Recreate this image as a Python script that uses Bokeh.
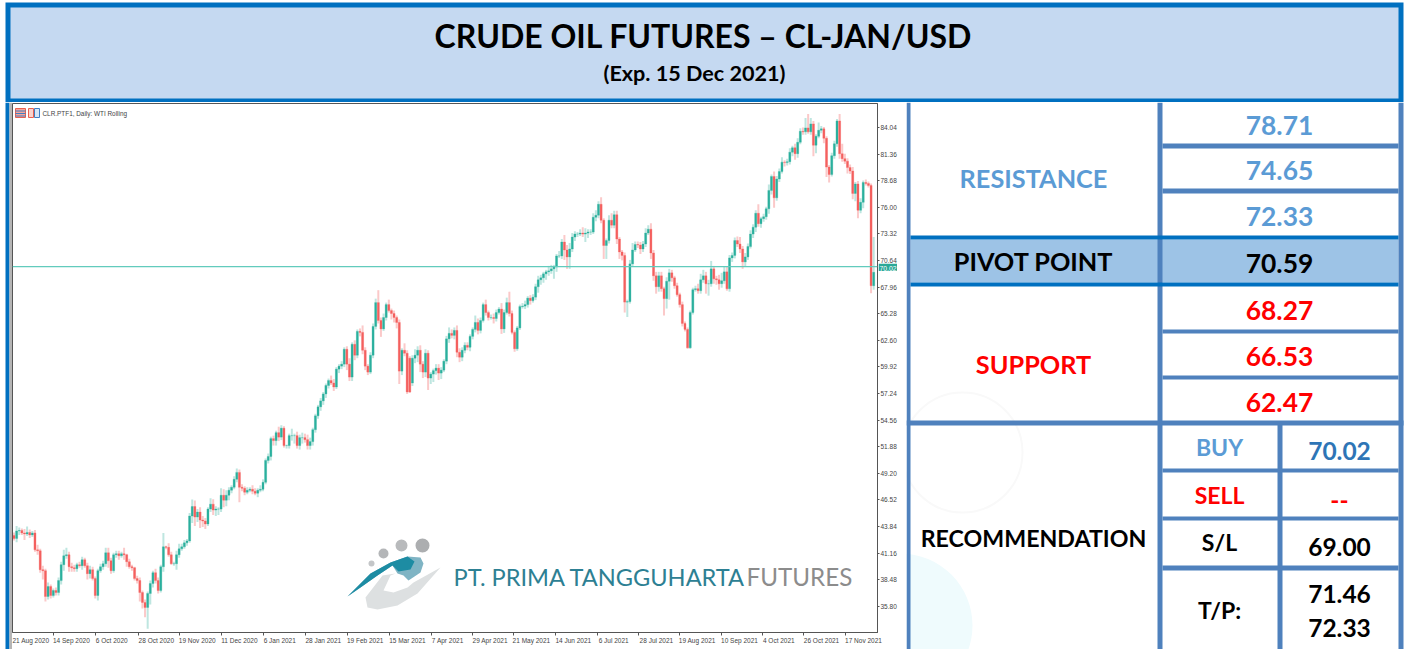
from bokeh.plotting import figure
from bokeh.layouts import column, row
from bokeh.embed import file_html
from bokeh.resources import INLINE
from bokeh.core.properties import value
from bokeh.models import (ColumnDataSource, Range1d, LinearAxis, FixedTicker, NumeralTickFormatter,
                          CustomJSTickFormatter, Span)

closes = [
 42.65,43.4,43.45,43.2,43.1,43.25,43.0,43.2,
 41.5,41.4,39.5,39.4,36.8,37.8,36.9,37.4,37.2,38.4,40.0,40.9,
 41.0,39.8,39.7,39.6,40.0,39.9,40.5,39.9,39.1,39.5,
 38.6,36.9,39.4,39.8,40.1,41.2,40.4,39.4,41.0,41.1,
 40.9,41.1,41.0,40.3,39.8,39.7,38.6,38.4,37.2,36.2,
 35.7,37.1,38.1,39.2,38.4,37.4,39.8,41.8,41.75,41.0,
 40.1,40.1,41.0,41.6,41.8,42.2,42.4,44.9,45.86,44.8,
 45.3,44.5,44.4,44.1,45.6,46.1,45.5,45.6,45.6,47.0,
 46.5,47.0,47.5,47.8,48.6,49.3,47.8,47.7,47.3,47.5,
 47.6,47.4,47.2,47.5,47.6,48.3,50.5,50.9,52.7,52.5,
 53.3,52.85,53.75,52.0,52.0,53.0,53.0,53.0,52.0,52.8,
 52.8,52.6,52.0,52.4,53.6,55.0,55.9,56.5,57.2,58.05,
 58.55,58.3,57.9,59.7,60.0,60.2,61.7,60.2,58.9,62.2,
 61.1,63.5,63.4,61.6,60.0,59.4,61.1,64.0,66.4,64.6,
 63.75,64.9,66.2,65.6,65.3,64.9,64.4,59.5,61.6,61.3,
 57.4,57.4,60.8,61.1,61.6,60.2,59.4,61.3,58.8,59.2,
 59.55,59.8,59.3,59.6,60.5,62.75,63.3,63.1,63.6,61.4,
 60.9,61.6,62.1,61.9,63.0,63.7,64.4,63.6,64.6,66.2,
 65.4,64.9,64.9,64.8,65.4,65.75,63.75,65.4,66.4,65.3,
 63.4,61.75,63.85,66.0,66.05,66.2,66.85,66.6,66.95,68.0,
 68.7,68.9,69.3,69.5,69.6,69.8,70.0,71.1,71.1,72.5,
 71.7,71.0,71.8,73.0,73.3,73.3,73.4,73.3,73.4,73.5,
 73.5,75.0,75.2,76.3,74.7,72.15,72.65,74.7,74.2,75.25,
 72.8,71.5,71.15,66.45,66.5,70.3,71.7,72.25,72.2,71.8,
 72.3,73.4,73.8,71.4,69.1,68.0,69.1,67.8,66.8,68.55,
 69.4,68.9,68.1,67.2,66.2,64.3,63.7,61.85,65.4,67.7,
 67.8,67.6,68.7,69.1,68.3,68.3,69.8,68.8,68.7,68.3,
 68.6,69.5,67.8,70.9,71.15,72.65,72.3,71.8,70.5,71.0,
 72.05,73.3,74.0,75.4,74.35,74.85,75.05,75.85,77.7,79.1,
 76.95,78.85,79.6,80.55,80.5,80.6,81.55,82.0,81.4,82.55,
 83.65,83.6,84.0,83.6,84.4,82.25,83.15,83.75,83.9,82.95,
 80.05,79.3,81.2,82.4,84.7,81.4,80.9,80.65,80.0,79.65,
 77.4,78.35,75.7,76.5,78.5,78.4,78.2,68.1,69.45,
]
first_open = 42.95
open_gaps = {151: 60.8, 152: 58.3}

wick_up = [
 .3,.5,.3,.2,.4,.6,.3,.2,
 .3,.5,.2,.4,.2,.4,.2,.2,.3,.3,.3,.6,
 .7,.3,.4,.3,.2,.3,.3,.2,.3,.4,
 .3,.2,.2,.3,.3,.5,.5,.3,.2,.3,
 .3,.2,.6,.1,.3,.2,.1,.3,.3,.2,
 .3,.2,.3,.2,.4,.3,.2,1.4,.1,.4,
 .3,.2,.4,.5,.3,.3,.2,.3,.7,.6,
 .3,.5,.4,.3,.2,.6,.5,.3,.2,.7,
 .6,.5,.3,.2,.3,.4,.3,.3,.2,.3,
 .2,.4,.3,.2,.4,.3,.2,.3,.2,.3,
 .2,.6,.3,.2,.1,.2,.7,.2,.4,.3,
 .5,.4,.5,.4,.2,.2,.2,.3,.2,.2,
 .2,.5,.4,.2,.2,.3,.2,.3,.6,.2,
 .4,.2,.3,.7,.3,.2,.3,.3,.4,1.25,
 .3,.4,.2,.5,.2,.3,.2,.3,.2,.7,
 .3,.2,.3,.6,.4,.5,.3,.4,.3,.2,
 .2,.4,.4,.3,.2,.3,.6,.4,.3,.5,
 .4,.3,.3,.3,.2,.2,.7,.4,.3,.2,
 .5,.2,.3,.4,.3,.2,.6,.3,.5,1.1,
 .3,.2,.2,.2,.3,.4,.2,.3,.3,.3,
 .4,.3,.2,.2,.5,.4,.2,.2,.5,.3,
 .7,.5,.6,.4,.3,.2,.4,.6,.5,.3,
 .3,.4,.5,.3,.7,.2,.2,.5,.7,.4,
 .4,.2,.2,.3,.2,.4,.7,.3,.3,.3,
 .3,.5,.4,.6,.3,.4,.4,.4,.2,.4,
 .4,.3,.2,.3,.2,.3,.2,.2,.2,.2,
 .3,.5,.6,.6,.4,.4,.8,.3,.3,.5,
 .8,.5,.5,.3,.3,.3,.4,.7,.3,.4,
 .3,.4,.3,.3,.9,.2,.3,.2,.6,.2,
 .5,.3,.3,.5,.2,.3,.4,.2,.4,.4,
 .3,.4,1.0,1.4,.6,.3,.2,.8,.3,.2,
 .2,.2,.3,.3,.2,.7,1.0,.5,.3,.3,
 .4,.2,.3,.4,.2,.3,.2,.2,3.55,
]
wick_dn = [
 .2,.4,.4,.2,.6,.2,.3,.2,
 .2,.4,.3,.9,.5,.3,.3,.2,.3,.3,.4,.6,
 .3,.5,.4,.3,.3,.2,.4,.2,.6,.5,
 .2,.3,.5,.2,.3,.3,.7,.3,.2,.3,
 .4,.2,.5,.5,.2,.3,.2,.3,.9,.6,
 1.0,2.15,1.1,.4,.3,.3,.2,.5,.2,.2,
 .1,.2,.6,.3,.2,.2,.3,.2,.7,.9,
 .5,.8,.6,.5,.2,.3,.5,.6,.6,.3,
 .7,.6,.5,.3,.2,.3,1.5,.3,.3,.2,
 .2,.3,.2,.4,.2,.2,.2,.3,.4,.5,
 .5,.4,.3,.2,.3,.3,.5,.8,.3,.4,
 .6,.3,.4,.4,.4,.3,.3,.4,.4,.4,
 .3,.2,.4,.2,.4,.3,.3,.6,.4,.4,
 .5,.3,.4,.4,.4,.3,.2,.3,.3,.3,
 .8,.2,.3,.2,.6,.5,.6,1.3,.4,.3,
 .2,.1,.3,.5,.7,.8,.6,.5,1.2,.6,
 .8,.4,.7,.6,.2,.3,.4,.3,.4,.5,
 .5,.4,.3,.3,.4,.3,.3,.4,.3,.2,
 .3,.3,.2,.5,.3,.2,.5,.4,.2,.3,
 .2,.3,.2,.2,.2,.3,.3,.4,.2,.3,
 .6,.5,.5,.6,.4,.3,1.0,.5,.2,.3,
 1.0,1.2,1.2,.3,.4,.3,.2,.3,.8,.5,
 .3,.2,.4,.3,.3,1.35,1.35,.3,.3,.3,
 .5,.7,.5,1.05,1.5,.2,.3,.2,.3,.5,
 .3,.3,.2,.6,.5,.7,.5,.3,1.7,1.0,
 1.85,.4,.3,.2,.3,.3,.2,.1,.1,.2,
 .2,.3,.3,.3,1.0,1.2,.3,.5,.5,.6,
 .4,.3,.2,.3,.4,.3,.3,.4,.7,.5,
 .3,.2,.4,.5,.3,.4,.3,.3,.5,.4,
 1.0,.3,.3,.2,.4,.3,.3,.4,.6,.4,
 .2,.3,.3,.2,.3,1.1,.8,.2,.3,.5,
 1.0,.8,.2,.3,.3,.5,.3,.3,.6,.3,
 .6,.8,.8,.3,.6,.2,.2,.75,.4,
]

y_ticks = [84.04,81.36,78.68,76.00,73.32,70.64,67.96,65.28,62.60,59.92,57.24,54.56,51.88,49.20,46.52,43.84,41.16,38.48,35.80]
x_tick_bars = [-0.6,15.1,31.1,47.5,63.1,79.2,95.2,111.2,127.2,143.3,159.3,174.9,190.6,206.6,222.6,238.3,253.9,270.0,285.6,301.3,317.3]
x_labels = ["21 Aug 2020","14 Sep 2020","6 Oct 2020","28 Oct 2020","19 Nov 2020","11 Dec 2020","6 Jan 2021","28 Jan 2021",
            "19 Feb 2021","15 Mar 2021","7 Apr 2021","29 Apr 2021","21 May 2021","14 Jun 2021","6 Jul 2021","28 Jul 2021",
            "19 Aug 2021","10 Sep 2021","4 Oct 2021","26 Oct 2021","17 Nov 2021"]
last_price = 70.02
chart_caption = "CLR.PTF1, Daily:  WTI Rolling"

title_text = "CRUDE OIL FUTURES \u2013 CL-JAN/USD"
subtitle_text = "(Exp. 15 Dec 2021)"
resistance = ["78.71", "74.65", "72.33"]
pivot = "70.59"
support = ["68.27", "66.53", "62.47"]
buy_price = "70.02"
sell_price = "--"
stop_loss = "69.00"
take_profit = ["71.46", "72.33"]
logo_teal = "PT. PRIMA TANGGUHARTA"
logo_grey = "FUTURES"

BLUE = "#0070C0"; LINE = "#4F81BD"; HEAD = "#C5D9F1"; PIV = "#9DC3E6"; SKY = "#5B9BD5"
UP = "#2BB09E"; DOWN = "#F4605E"; UP_W = "#BEE6E0"; DOWN_W = "#FBC9C9"
FONT = value("Lato")


def panel(w, h, x0, y0, margin=(0, 0, 0, 0)):
    f = figure(width=w, height=h, x_range=Range1d(x0, x0 + w), y_range=Range1d(y0 + h, y0),
               x_axis_location=None, y_axis_location=None, toolbar_location=None,
               output_backend="svg", min_border=0, outline_line_color=None, frame_align=False,
               background_fill_color="white", border_fill_color="white", margin=margin)
    f.grid.visible = False
    return f


def put(f, x, y, txt, size, color="black", style="bold", font=FONT, align="center"):
    f.text([x], [y], text=[txt], text_font=font, text_font_size=f"{size}px", text_font_style=style,
           text_color=color, text_align=align, text_baseline="middle")


def bar(f, l, r, t, b, color):
    f.quad(left=[l], right=[r], top=[t], bottom=[b], fill_color=color, line_color=None)


# ---------- header ----------
hd = panel(1405, 102, 0, 0)
bar(hd, 5, 1403, 2, 102, BLUE)
bar(hd, 10, 1398, 7, 98, HEAD)
put(hd, 703, 35, title_text, 32)
put(hd, 694, 72, subtitle_text, 21.6)

# ---------- left edge of the picture ----------
strip = panel(12, 547, 0, 102)
bar(strip, 5, 9, 102, 649, BLUE)
bar(strip, 9, 11.5, 102, 649, "#B5B5B5")

# ---------- chart ----------
n = len(closes)
opens = [first_open] + closes[:-1]
for k, v in open_gaps.items():
    opens[k] = v
highs = [max(o, c) + w for o, c, w in zip(opens, closes, wick_up)]
lows = [min(o, c) - w for o, c, w in zip(opens, closes, wick_dn)]
xs = list(range(n))
src = ColumnDataSource(dict(
    x=xs, o=opens, c=closes, h=highs, l=lows,
    body=[UP if c >= o else DOWN for o, c in zip(opens, closes)],
    wick=[UP_W if c >= o else DOWN_W for o, c in zip(opens, closes)]))

PX = 2.621
X0 = 13.5
PY = 9.928
YC = 96.83
ch = figure(width=894, height=547,
            x_range=Range1d((12 - X0) / PX, (877 - X0) / PX),
            y_range=Range1d(YC - 632 / PY, YC - 103 / PY),
            x_axis_location=None, y_axis_location=None, toolbar_location=None, output_backend="svg",
            min_border_left=0, min_border_right=29, min_border_top=1, min_border_bottom=17, frame_align=False,
            outline_line_color="#555555", outline_line_width=1,
            background_fill_color="white", border_fill_color="white", margin=(0, 0, 0, 0))
ch.grid.visible = False
ch.extra_x_ranges["px"] = Range1d(12, 877)
ch.extra_y_ranges["px"] = Range1d(632, 103)

ch.segment("x", "h", "x", "l", source=src, line_color="wick", line_width=2)
ch.vbar(x="x", width=0.78, top="o", bottom="c", source=src, fill_color="body", line_color="body", line_width=0.3)
ch.add_layout(Span(location=last_price, dimension="width", line_color="#62CBBD", line_width=1.2))

yax = LinearAxis(ticker=FixedTicker(ticks=y_ticks), formatter=NumeralTickFormatter(format="0.00"),
                 major_tick_out=2, major_tick_in=0, minor_tick_out=0, minor_tick_in=0,
                 major_label_standoff=1, major_label_text_font_size="6.5px", major_label_text_color="#444444",
                 major_label_text_font="Liberation Sans", axis_line_color="#555555", major_tick_line_color="#555555")
ch.add_layout(yax, "right")

tick_ax = LinearAxis(ticker=FixedTicker(ticks=x_tick_bars), major_tick_out=3, major_tick_in=0,
                     minor_tick_out=0, minor_tick_in=0,
                     formatter=CustomJSTickFormatter(code='return ""'),
                     major_label_standoff=0, axis_line_color="#555555", major_tick_line_color="#555555")
ch.add_layout(tick_ax, "below")
label_bars = [b + (len(t) * 3.15 / 2 + 0.5) / PX for b, t in zip(x_tick_bars, x_labels)]
lab_ax = LinearAxis(ticker=FixedTicker(ticks=label_bars),
                    formatter=CustomJSTickFormatter(args=dict(labels=x_labels), code="return labels[index]"),
                    major_tick_out=0, major_tick_in=0, minor_tick_out=0, minor_tick_in=0,
                    major_label_standoff=1, major_label_text_font_size="6.5px", major_label_text_color="#444444",
                    major_label_text_font="Liberation Sans", axis_line_color=None)
ch.add_layout(lab_ax, "below")


def pq(l, r, t, b, c, line=None):
    ch.quad(left=[l], right=[r], top=[t], bottom=[b], fill_color=c, line_color=line,
            x_range_name="px", y_range_name="px")


def pt(x, y, txt, size, c, font, style="normal", align="left"):
    ch.text([x], [y], text=[txt], text_font=value(font), text_font_size=f"{size}px", text_font_style=style,
            text_color=c, text_align=align, text_baseline="middle", x_range_name="px", y_range_name="px")


def pp(xs_, ys_, c):
    ch.patch(xs_, ys_, fill_color=c, line_color=None, x_range_name="px", y_range_name="px")


# chart caption and its icons
pq(15, 25, 108, 117, "#F7A59A", "#E8604F")
for yy in (110.5, 113, 115.5):
    ch.segment([15], [yy], [25], [yy], line_color="#3F7FC4", line_width=1, x_range_name="px", y_range_name="px")
pq(28, 33, 108, 117, "#FBD3CC", "#E8604F")
pq(34, 39, 108, 117, "#D5E6F7", "#3F7FC4")
pt(42, 112.5, chart_caption, 6.4, "#444444", "Liberation Sans")

# logo
for cx, cy, r, c in ((371, 563, 3, "#C4C6C8"), (383, 553, 5, "#B4B6B8"), (401, 545, 6, "#B8BABC"), (422, 545, 7, "#ACAEB0")):
    ch.circle([cx], [cy], radius=r, fill_color=c, line_color=None, x_range_name="px", y_range_name="px")
pp([382, 365, 367, 377, 397, 417, 440, 413, 407, 393, 383, 390, 395],
   [575, 597, 607, 609, 605, 593, 567, 582, 587, 592, 590, 575, 573], "#DDE0E1")
pp([347, 370, 390, 407, 420, 423, 420, 408, 403, 397, 392, 377, 360],
   [596, 573, 562, 556, 557, 563, 572, 580, 575, 573, 565, 575, 587], "#7FB4C4")
pp([347, 370, 390, 407, 414, 410, 398, 392, 377, 360],
   [596, 573, 562, 556, 561, 569, 571, 565, 575, 587], "#1D8CA3")
pt(453, 576, logo_teal, 23.6, "#2D8093", "Lato")
pt(746, 576, logo_grey, 24.2, "#8C8C8C", "Lato")

# ---------- price flag, laid over the chart's axis strip ----------
flag = panel(19, 10, 878, 261, margin=(159, 9, 0, -28))
bar(flag, 878, 897, 261, 271, "#2BA898")
put(flag, 887.5, 266, f"{last_price:.2f}", 6.8, "white", style="normal", font=value("Liberation Sans"))

# ---------- table ----------
tb = panel(499, 547, 906, 102)
tb.circle([900], [625], radius=72, fill_color="#EFFBFD", line_color=None)
tb.circle([962], [452], radius=60, fill_color=None, line_color="#F9F9F9", line_width=2)
bar(tb, 910, 1398, 239, 282, PIV)
for l, r, t, b in ((906, 910, 102, 649), (1157, 1162, 102, 649), (1277, 1282, 421, 649), (1398, 1403, 102, 649)):
    bar(tb, l, r, t, b, LINE)
for t, b in ((143, 148), (188, 193), (329, 333), (375, 379), (468, 472), (516, 520), (565, 570)):
    bar(tb, 1162, 1398, t, b, LINE)
bar(tb, 906, 1403, 420, 425, LINE)
for t, b in ((235, 239), (282, 286)):
    bar(tb, 910, 1398, t, b, BLUE)

S = 25.3
N = 26.4
put(tb, 1033, 177, "RESISTANCE", S, SKY)
for y, t in zip((125, 170, 216), resistance):
    put(tb, 1279, y, t, N, SKY)
put(tb, 1033, 260, "PIVOT POINT", S)
put(tb, 1279, 263, pivot, N)
put(tb, 1033, 363, "SUPPORT", S, "#FF0000")
for y, t in zip((310, 356, 402), support):
    put(tb, 1279, y, t, N, "#FF0000")
put(tb, 1033, 537, "RECOMMENDATION", 23.2)
put(tb, 1219, 446, "BUY", 23, SKY)
put(tb, 1339, 450, buy_price, 24.5, "#2E75B6")
put(tb, 1219, 494, "SELL", 23, "#FF0000")
put(tb, 1339, 499, sell_price, 24.5, "#FF0000")
put(tb, 1219, 541, "S/L", 23)
put(tb, 1339, 546, stop_loss, 24.5)
put(tb, 1219, 609, "T/P:", 23)
for y, t in zip((593, 627), take_profit):
    put(tb, 1339, y, t, 24.5)

page = column(hd, row(strip, ch, flag, tb, spacing=0, margin=(0, 0, 0, 0)), spacing=0, margin=(0, 0, 0, 0))
open("out.html", "w").write(file_html(page, INLINE))
